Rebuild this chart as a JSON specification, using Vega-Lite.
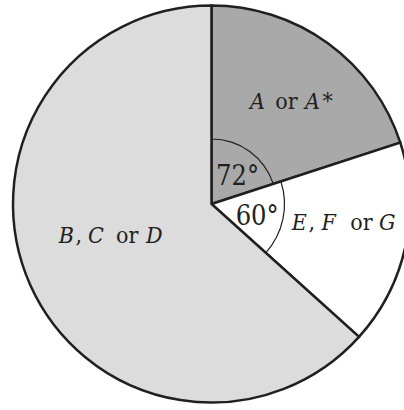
{
  "$schema": "https://vega.github.io/schema/vega-lite/v6.json",
  "width": 385,
  "height": 408,
  "autosize": "none",
  "padding": {"left": 19, "top": 0, "right": 0, "bottom": 2},
  "background": "#ffffff",
  "config": {"view": {"stroke": null}, "text": {"font": "DejaVu Serif Condensed", "color": "#231f20", "align": "left", "baseline": "alphabetic"}},
  "data": {"values": [
    {"grade": "A or A*", "angle": 72},
    {"grade": "E, F or G", "angle": 60},
    {"grade": "B, C or D", "angle": 228}
  ]},
  "transform": [{"window": [{"op": "row_number", "as": "idx"}]}],
  "encoding": {
    "theta": {"field": "angle", "type": "quantitative", "stack": true},
    "order": {"field": "idx", "type": "quantitative"}
  },
  "layer": [
    {
      "mark": {"type": "arc", "radius": 198.5, "stroke": "#231f20", "strokeWidth": 2.5},
      "encoding": {
        "color": {"field": "grade", "type": "nominal", "legend": null,
          "scale": {"domain": ["A or A*", "E, F or G", "B, C or D"], "range": ["#a9a9a9", "#ffffff", "#dcdcdc"]}}
      }
    },
    {
      "mark": {"type": "arc", "radius": 65.6, "radius2": 64.4, "fill": "#231f20"},
      "encoding": {"opacity": {"condition": {"test": "datum.grade === 'A or A*'", "value": 1}, "value": 0}}
    },
    {
      "mark": {"type": "arc", "radius": 73.6, "radius2": 72.4, "fill": "#231f20"},
      "encoding": {"opacity": {"condition": {"test": "datum.grade === 'E, F or G'", "value": 1}, "value": 0}}
    },
    {
      "mark": {"type": "text", "radius": 130, "dx": -38, "dy": 10.2, "fontSize": 23, "fontStyle": "italic"},
      "encoding": {"text": {"condition": {"test": "datum.grade === 'A or A*'", "value": "A"}, "value": ""}}
    },
    {
      "mark": {"type": "text", "radius": 130, "dx": -12.6, "dy": 10.2, "fontSize": 23},
      "encoding": {"text": {"condition": {"test": "datum.grade === 'A or A*'", "value": "or"}, "value": ""}}
    },
    {
      "mark": {"type": "text", "radius": 130, "dx": 17, "dy": 10.2, "fontSize": 23, "fontStyle": "italic"},
      "encoding": {"text": {"condition": {"test": "datum.grade === 'A or A*'", "value": "A"}, "value": ""}}
    },
    {
      "mark": {"type": "text", "radius": 130, "dx": 34.5, "dy": 10.2, "fontSize": 23},
      "encoding": {"text": {"condition": {"test": "datum.grade === 'A or A*'", "value": "*"}, "value": ""}}
    },
    {
      "mark": {"type": "text", "radius": 105, "dx": -56.8, "dy": -3.5, "fontSize": 23, "fontStyle": "italic"},
      "encoding": {"text": {"condition": {"test": "datum.grade === 'B, C or D'", "value": "B"}, "value": ""}}
    },
    {
      "mark": {"type": "text", "radius": 105, "dx": -40.1, "dy": -3.5, "fontSize": 23},
      "encoding": {"text": {"condition": {"test": "datum.grade === 'B, C or D'", "value": ","}, "value": ""}}
    },
    {
      "mark": {"type": "text", "radius": 105, "dx": -27.6, "dy": -3.5, "fontSize": 23, "fontStyle": "italic"},
      "encoding": {"text": {"condition": {"test": "datum.grade === 'B, C or D'", "value": "C"}, "value": ""}}
    },
    {
      "mark": {"type": "text", "radius": 105, "dx": 0.4, "dy": -3.5, "fontSize": 23},
      "encoding": {"text": {"condition": {"test": "datum.grade === 'B, C or D'", "value": "or"}, "value": ""}}
    },
    {
      "mark": {"type": "text", "radius": 105, "dx": 30.4, "dy": -3.5, "fontSize": 23, "fontStyle": "italic"},
      "encoding": {"text": {"condition": {"test": "datum.grade === 'B, C or D'", "value": "D"}, "value": ""}}
    },
    {
      "mark": {"type": "text", "radius": 137, "dx": -53.7, "dy": -2.5, "fontSize": 23, "fontStyle": "italic"},
      "encoding": {"text": {"condition": {"test": "datum.grade === 'E, F or G'", "value": "E"}, "value": ""}}
    },
    {
      "mark": {"type": "text", "radius": 137, "dx": -37, "dy": -2.5, "fontSize": 23},
      "encoding": {"text": {"condition": {"test": "datum.grade === 'E, F or G'", "value": ","}, "value": ""}}
    },
    {
      "mark": {"type": "text", "radius": 137, "dx": -24, "dy": -2.5, "fontSize": 23, "fontStyle": "italic"},
      "encoding": {"text": {"condition": {"test": "datum.grade === 'E, F or G'", "value": "F"}, "value": ""}}
    },
    {
      "mark": {"type": "text", "radius": 137, "dx": 4.8, "dy": -2.5, "fontSize": 23},
      "encoding": {"text": {"condition": {"test": "datum.grade === 'E, F or G'", "value": "or"}, "value": ""}}
    },
    {
      "mark": {"type": "text", "radius": 137, "dx": 33.5, "dy": -2.5, "fontSize": 23, "fontStyle": "italic"},
      "encoding": {"text": {"condition": {"test": "datum.grade === 'E, F or G'", "value": "G"}, "value": ""}}
    },
    {
      "mark": {"type": "text", "radius": 40, "dx": -19, "dy": 13.4, "fontSize": 27},
      "encoding": {"text": {"condition": {"test": "datum.grade === 'A or A*'", "value": "72°"}, "value": ""}}
    },
    {
      "mark": {"type": "text", "radius": 40, "dx": -15, "dy": 12.2, "fontSize": 27},
      "encoding": {"text": {"condition": {"test": "datum.grade === 'E, F or G'", "value": "60°"}, "value": ""}}
    }
  ]
}
